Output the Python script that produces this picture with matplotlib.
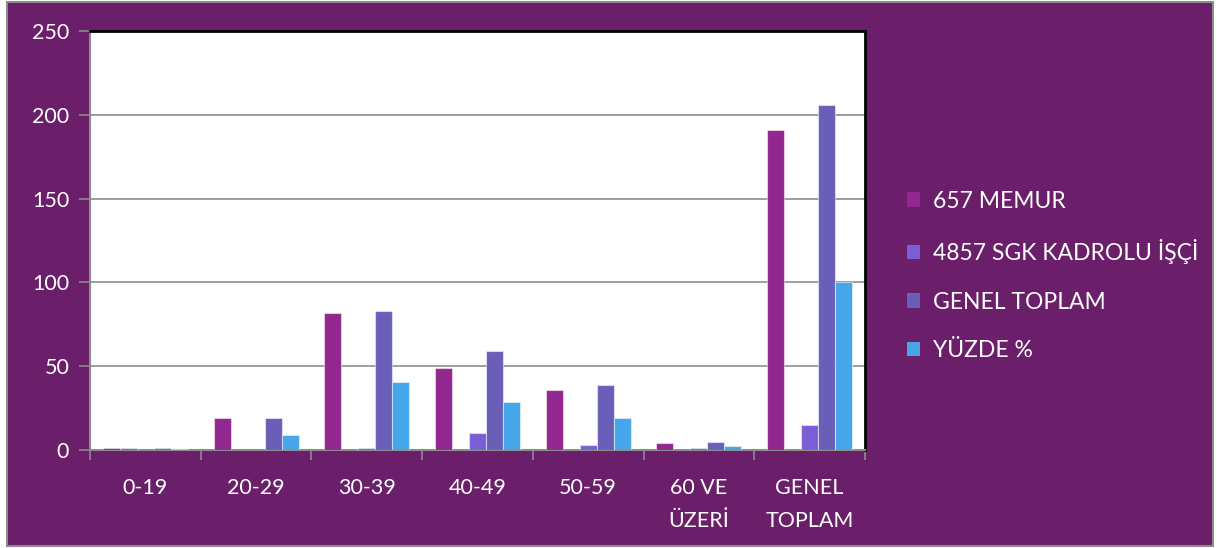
import numpy as np
import matplotlib.pyplot as plt
from matplotlib.patches import Rectangle, Patch

categories = ["0-19", "20-29", "30-39", "40-49", "50-59", "60 VE\nÜZERİ", "GENEL\nTOPLAM"]
memur = [1, 19, 82, 49, 36, 4, 191]
hidden = [1, 0, 0, 0, 0, 0, 0]
isci = [0, 0, 1, 10, 3, 1, 15]
genel = [1, 19, 83, 59, 39, 5, 206]
yuzde = [0.5, 9.2, 40.3, 28.6, 18.9, 2.4, 100]

bg = "#6B1E69"
series = [
    ("657 MEMUR", memur, "#92278F"),
    (None, hidden, "#7B5ED6"),
    ("4857 SGK KADROLU İŞÇİ", isci, "#7B5ED6"),
    ("GENEL TOPLAM", genel, "#6A5FB8"),
    ("YÜZDE %", yuzde, "#45A6EA"),
]

plt.rcParams['font.family'] = ['Lato', 'DejaVu Sans']

fig = plt.figure(figsize=(12.17, 5.48), dpi=100)
fig.patch.set_facecolor("white")
fig.patches.append(Rectangle((7 / 1217, 2 / 548), 1206 / 1217, 544 / 548,
                             transform=fig.transFigure, facecolor=bg,
                             edgecolor="#8c8c8c", linewidth=1.5, zorder=-10))

ax = fig.add_axes([90 / 1217, 1 - 450 / 548, 775 / 1217, 419 / 548])
ax.set_facecolor("white")

x = np.arange(len(categories))
w = 0.1536
handles = []
for k, (name, vals, col) in enumerate(series):
    ax.bar(x + (k - 2) * w, vals, width=w, color=col,
           edgecolor=(1, 1, 1, 0.5), linewidth=0.8, zorder=3)
    if name:
        handles.append((Patch(facecolor=col), name))

ax.set_ylim(0, 250)
ax.set_xlim(-0.5, 6.5)
ax.set_yticks(range(0, 251, 50))
ax.yaxis.grid(True, color="#8c8c8c", linewidth=1.2, zorder=0)
ax.tick_params(axis="y", colors="#8c8c8c", labelcolor="white", labelsize=15.5,
               length=8, width=1.2, pad=7)

ax.set_xticks(x)
ax.set_xticklabels(categories, color="white", fontsize=15.5, linespacing=1.85,
                   va="top")
ax.set_xticks(np.arange(-0.5, 7, 1), minor=True)
ax.tick_params(axis="x", which="major", length=0, pad=20)
ax.tick_params(axis="x", which="minor", colors="#8c8c8c", length=7, width=1.2)

for s in ["left", "bottom"]:
    ax.spines[s].set_color("#8c8c8c")
    ax.spines[s].set_linewidth(1.5)
for s in ["top", "right"]:
    ax.spines[s].set_color("black")
    ax.spines[s].set_linewidth(2)

fig.legend([h for h, _ in handles], [n for _, n in handles],
           loc="center left", bbox_to_anchor=(886 / 1217, 1 - 276 / 548),
           frameon=False, fontsize=16.5, labelcolor="white",
           handlelength=0.6, handleheight=0.6, handletextpad=0.55,
           labelspacing=1.2)

fig.savefig("out.png", dpi=100, facecolor=fig.get_facecolor())
